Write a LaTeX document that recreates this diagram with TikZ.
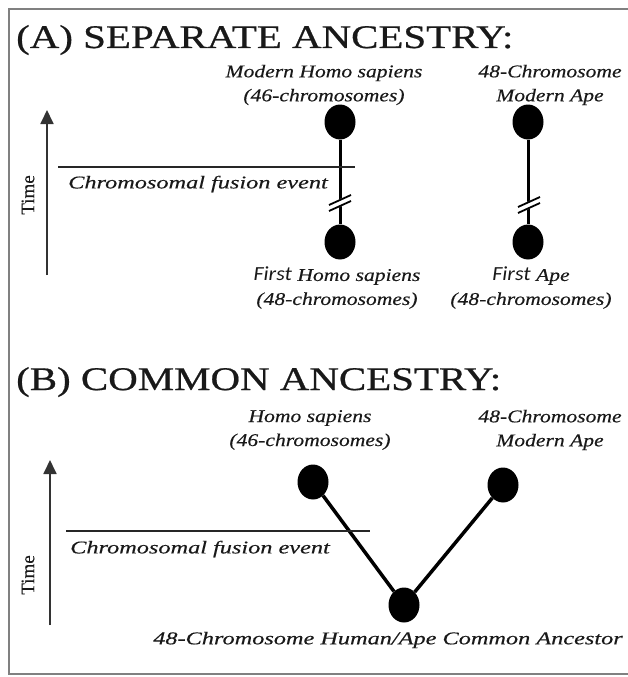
\documentclass[tikz,border=0pt]{standalone}
\usepackage{fontspec}
\usetikzlibrary{shapes.geometric,arrows.meta}
\newfontfamily\titlefont[FakeStretch=1.24,FakeBold=0.6]{Liberation Serif}
\newfontfamily\labfont[FakeStretch=1.2,FakeBold=0.3]{Liberation Serif}
\newfontfamily\widelabfont[FakeStretch=1.35,FakeBold=0.3]{Liberation Serif}
\newfontfamily\timefont[FakeBold=0.3]{Liberation Serif}
\newfontfamily\firstfont[FakeStretch=1.1]{Carlito}
\tikzset{
  dot/.style={ellipse, fill=black, minimum width=31pt, minimum height=35pt, inner sep=0pt},
  lbl/.style={font=\labfont\itshape\fontsize{18}{24}\selectfont, align=center, inner sep=0pt, text=black!90},
  widelbl/.style={font=\widelabfont\itshape\fontsize{18}{24}\selectfont, align=center, inner sep=0pt, text=black!90},
  ttl/.style={font=\titlefont\fontsize{33}{36}\selectfont, anchor=base west, inner sep=0pt, text=black!90},
  timelbl/.style={font=\timefont\fontsize{19}{22}\selectfont, rotate=90, inner sep=0pt, text=black!90},
  branch/.style={line width=3pt, black},
  fusion/.style={line width=2.8pt, black!85},
  timearrow/.style={line width=1.8pt, black!80, -{Triangle[length=14pt,width=13pt]}},
  brk/.pic={
    \draw[white, line width=7pt] (-11,4) -- (11,-6);
    \draw[black, line width=1.8pt] (-11,7) -- (11,-3);
    \draw[black, line width=1.8pt] (-11,1) -- (11,-9);
  }
}
\newcommand{\firstword}{{\firstfont\itshape\fontsize{20}{24}\selectfont First}}
\begin{document}
\begin{tikzpicture}[x=1pt,y=-1pt]
\useasboundingbox (0,0) rectangle (628,677);
\fill[white] (0,0) rectangle (628,677);
% frame
\draw[black!50, line width=2.5pt] (628,9) -- (9,9) -- (9,674) -- (628,674);

% ===== Panel A =====
\node[ttl] (titleA) at (16,48) {(A) SEPARATE ANCESTRY:};
\node[lbl] (labHM) at (324,85) {Modern Homo sapiens\\(46-chromosomes)};
\node[lbl] (labAM) at (550,85) {48-Chromosome\\Modern Ape};
\node[dot] (hTop) at (340,122) {};
\node[dot] (hBot) at (340,242) {};
\node[dot] (aTop) at (528,122) {};
\node[dot] (aBot) at (528,242) {};
\draw[branch] (hTop) -- (hBot);
\draw[branch] (aTop) -- (aBot);
\pic at (340,204) {brk};
\pic at (529,206) {brk};
\coordinate (fA1) at (58,167);
\coordinate (fA2) at (355,167);
\draw[fusion] (fA1) -- (fA2);
\node[widelbl, anchor=west] (fusA) at (68,184) {Chromosomal fusion event};
\node[lbl] (labHF) at (337,288) {\firstword{} Homo sapiens\\(48-chromosomes)};
\node[lbl] (labAF) at (531,288) {\firstword{} Ape\\(48-chromosomes)};
\coordinate (tA1) at (47,275);
\coordinate (tA2) at (47,110);
\draw[timearrow] (tA1) -- (tA2);
\node[timelbl] (timeA) at (28,195) {Time};

% ===== Panel B =====
\node[ttl] (titleB) at (16,390) {(B) COMMON ANCESTRY:};
\node[lbl] (labH) at (310,430) {Homo sapiens\\(46-chromosomes)};
\node[lbl] (labA) at (550,430) {48-Chromosome\\Modern Ape};
\node[dot] (bH) at (313,482) {};
\node[dot] (bA) at (503,485) {};
\node[dot] (bC) at (404,605) {};
\draw[branch, line width=3.5pt] (bH) -- (bC);
\draw[branch, line width=3.5pt] (bA) -- (bC);
\coordinate (fB1) at (66,531);
\coordinate (fB2) at (370,531);
\draw[fusion] (fB1) -- (fB2);
\node[widelbl, anchor=west] (fusB) at (70,549) {Chromosomal fusion event};
\node[widelbl] (labC) at (388,640) {48-Chromosome Human/Ape Common Ancestor};
\coordinate (tB1) at (50,625);
\coordinate (tB2) at (50,460);
\draw[timearrow] (tB1) -- (tB2);
\node[timelbl] (timeB) at (28,575) {Time};
\end{tikzpicture}
\end{document}
